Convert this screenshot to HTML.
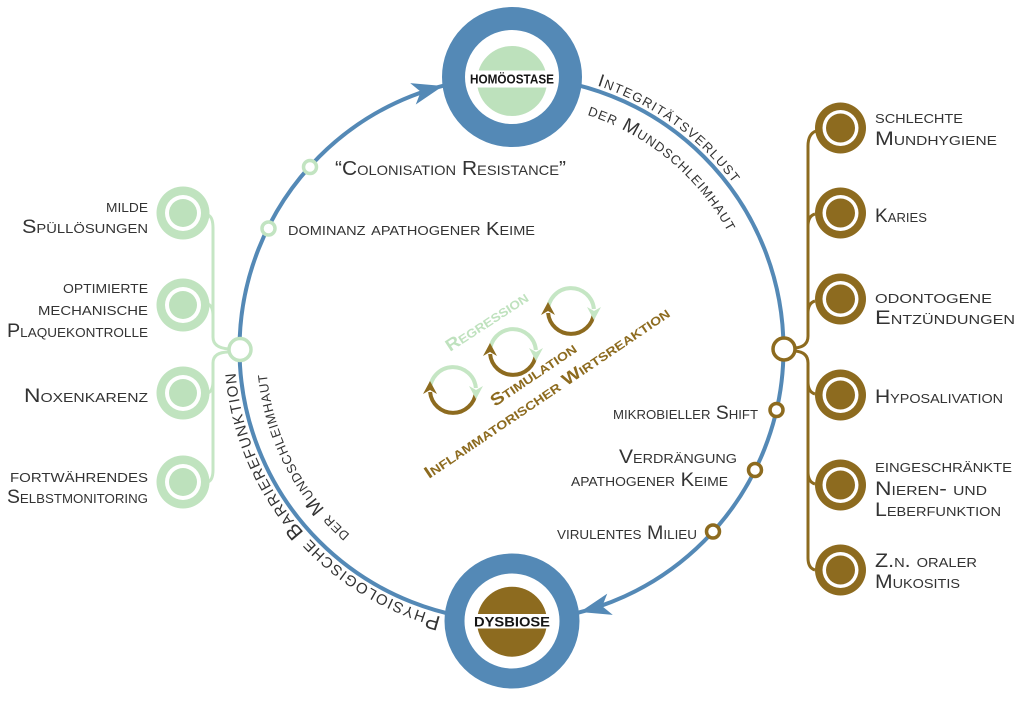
<!DOCTYPE html>
<html><head><meta charset="utf-8">
<style>
html,body{margin:0;padding:0;background:#fff;}
svg{display:block;}
text{font-family:"Liberation Sans",sans-serif;font-variant:small-caps;fill:#333;}
.b{font-weight:bold;}
.k{fill:#151515;}
.g{fill:#bfe2be;}
.br{fill:#8d6b1f;}
</style></head>
<body>
<svg width="1024" height="712" viewBox="0 0 1024 712" xmlns="http://www.w3.org/2000/svg">
<defs>
<path id="tro" d="M511.5 72 A277 277 0 0 1 788.5 349"/>
<path id="tri" d="M511.5 103 A246 246 0 0 1 757.5 349"/>
<path id="blo" d="M511.5 626 A277 277 0 0 1 234.5 349"/>
<path id="bli" d="M511.5 595 A246 246 0 0 1 265.5 349"/>
</defs>

<!-- main circle -->
<circle cx="511.5" cy="349" r="272" fill="none" stroke="#5489b6" stroke-width="4"/>
<!-- arrowheads -->
<path d="M0 0 L-31 -11 L-23 0 L-31 11 Z" fill="#5489b6" transform="translate(443 86) rotate(-14.6)"/>
<path d="M0 0 L-31 -11 L-23 0 L-31 11 Z" fill="#5489b6" transform="translate(580 612) rotate(165.5)"/>

<!-- left tree connectors -->
<g fill="none" stroke="#c5e6c4" stroke-width="3">
<path d="M208 215 Q213 217 213 228 L213 337 Q213 348 229 349"/>
<path d="M229 352 Q213 352 213 363 L213 470 Q213 480 208 482"/>
<path d="M208 304 Q213 306 213 316"/>
<path d="M213 381 Q213 391 208 393"/>
</g>
<!-- right tree connectors -->
<g fill="none" stroke="#8d6b1f" stroke-width="3">
<path d="M816 131 Q808 134 808 146 L808 336 Q808 347 795 348"/>
<path d="M795 351 Q808 352 808 363 L808 558 Q808 568 815 570"/>
<path d="M815 214 Q808 216 808 226"/>
<path d="M815 301 Q808 303 808 313"/>
<path d="M808 382 Q808 392 815 394"/>
<path d="M808 472 Q808 482 815 484"/>
</g>

<!-- left green circles -->
<g>
<circle cx="183" cy="213" r="26.5" fill="#c0e3bf"/><circle cx="183" cy="213" r="18" fill="#fff"/><circle cx="183" cy="213" r="14" fill="#bde1bc"/>
<circle cx="183" cy="305" r="26.5" fill="#c0e3bf"/><circle cx="183" cy="305" r="18" fill="#fff"/><circle cx="183" cy="305" r="14" fill="#bde1bc"/>
<circle cx="183" cy="393" r="26.5" fill="#c0e3bf"/><circle cx="183" cy="393" r="18" fill="#fff"/><circle cx="183" cy="393" r="14" fill="#bde1bc"/>
<circle cx="183" cy="482" r="26.5" fill="#c0e3bf"/><circle cx="183" cy="482" r="18" fill="#fff"/><circle cx="183" cy="482" r="14" fill="#bde1bc"/>
</g>
<!-- right brown circles -->
<g>
<circle cx="840.5" cy="128" r="25.5" fill="#8d6b1f"/><circle cx="840.5" cy="128" r="18" fill="#fff"/><circle cx="840.5" cy="128" r="14.5" fill="#8d6b1f"/>
<circle cx="840.5" cy="213" r="25.5" fill="#8d6b1f"/><circle cx="840.5" cy="213" r="18" fill="#fff"/><circle cx="840.5" cy="213" r="14.5" fill="#8d6b1f"/>
<circle cx="840.5" cy="299" r="25.5" fill="#8d6b1f"/><circle cx="840.5" cy="299" r="18" fill="#fff"/><circle cx="840.5" cy="299" r="14.5" fill="#8d6b1f"/>
<circle cx="840.5" cy="395" r="25.5" fill="#8d6b1f"/><circle cx="840.5" cy="395" r="18" fill="#fff"/><circle cx="840.5" cy="395" r="14.5" fill="#8d6b1f"/>
<circle cx="840.5" cy="485" r="25.5" fill="#8d6b1f"/><circle cx="840.5" cy="485" r="18" fill="#fff"/><circle cx="840.5" cy="485" r="14.5" fill="#8d6b1f"/>
<circle cx="840.5" cy="570" r="25.5" fill="#8d6b1f"/><circle cx="840.5" cy="570" r="18" fill="#fff"/><circle cx="840.5" cy="570" r="14.5" fill="#8d6b1f"/>
</g>

<!-- nodes on main circle -->
<circle cx="240" cy="349.5" r="11" fill="#fff" stroke="#c2e4c1" stroke-width="3.5"/>
<circle cx="784" cy="349" r="11" fill="#fff" stroke="#8d6b1f" stroke-width="3.5"/>
<g fill="#fff" stroke="#c2e4c1" stroke-width="3.5">
<circle cx="310" cy="167" r="6.5"/><circle cx="268.5" cy="228.5" r="6.5"/>
</g>
<g fill="#fff" stroke="#8d6b1f" stroke-width="3.5">
<circle cx="776.5" cy="410" r="6.5"/><circle cx="755" cy="470" r="6.5"/><circle cx="713" cy="531.5" r="6.5"/>
</g>

<!-- Homöostase -->
<circle cx="512" cy="77" r="58.5" fill="#fff" stroke="#5489b6" stroke-width="23"/>
<circle cx="512" cy="81" r="35" fill="#bde1bc"/>
<rect x="470" y="70.5" width="85" height="17" fill="#fff"/>
<text class="b k" x="470" y="83.5" font-size="13" textLength="84" lengthAdjust="spacingAndGlyphs">HOMÖOSTASE</text>

<!-- Dysbiose -->
<circle cx="512" cy="621" r="57.5" fill="#fff" stroke="#5489b6" stroke-width="20"/>
<circle cx="512" cy="621.7" r="35" fill="#8d6b1f"/>
<rect x="470" y="614" width="85" height="14.5" fill="#fff"/>
<text class="b k" x="474" y="626.7" font-size="14" textLength="76" lengthAdjust="spacingAndGlyphs">DYSBIOSE</text>

<!-- curved texts -->
<text font-size="18"><textPath href="#tro" startOffset="87" textLength="170">Integritätsverlust</textPath></text>
<text font-size="19"><textPath href="#tri" startOffset="77" textLength="187">der Mundschleimhaut</textPath></text>
<text font-size="21"><textPath href="#blo" startOffset="71" textLength="340">Physiologische Barrierefunktion</textPath></text>
<text font-size="19"><textPath href="#bli" startOffset="176" textLength="185">der Mundschleimhaut</textPath></text>

<!-- left labels -->
<g font-size="19" text-anchor="end">
<text x="148" y="212" textLength="42" lengthAdjust="spacingAndGlyphs">milde</text>
<text x="148" y="233" textLength="126" lengthAdjust="spacingAndGlyphs">Spüllösungen</text>
<text x="148" y="293" textLength="85" lengthAdjust="spacingAndGlyphs">optimierte</text>
<text x="148" y="315" textLength="110" lengthAdjust="spacingAndGlyphs">mechanische</text>
<text x="148" y="337" textLength="141" lengthAdjust="spacingAndGlyphs">Plaquekontrolle</text>
<text x="148" y="402" textLength="124" lengthAdjust="spacingAndGlyphs">Noxenkarenz</text>
<text x="148" y="482" textLength="138" lengthAdjust="spacingAndGlyphs">fortwährendes</text>
<text x="148" y="503" textLength="141" lengthAdjust="spacingAndGlyphs">Selbstmonitoring</text>
</g>

<!-- right labels -->
<g font-size="19">
<text x="875" y="123" textLength="88" lengthAdjust="spacingAndGlyphs">schlechte</text>
<text x="875" y="145" textLength="122" lengthAdjust="spacingAndGlyphs">Mundhygiene</text>
<text x="875" y="222" textLength="52" lengthAdjust="spacingAndGlyphs">Karies</text>
<text x="875" y="303" textLength="117" lengthAdjust="spacingAndGlyphs">odontogene</text>
<text x="875" y="324" textLength="140" lengthAdjust="spacingAndGlyphs">Entzündungen</text>
<text x="875" y="403" textLength="128" lengthAdjust="spacingAndGlyphs">Hyposalivation</text>
<text x="875" y="472" textLength="137" lengthAdjust="spacingAndGlyphs">eingeschränkte</text>
<text x="875" y="495" textLength="112" lengthAdjust="spacingAndGlyphs">Nieren- und</text>
<text x="875" y="516" textLength="126" lengthAdjust="spacingAndGlyphs">Leberfunktion</text>
<text x="875" y="567" textLength="102" lengthAdjust="spacingAndGlyphs">Z.n. oraler</text>
<text x="875" y="588" textLength="85" lengthAdjust="spacingAndGlyphs">Mukositis</text>
</g>

<!-- middle labels -->
<text x="335" y="175" font-size="20" textLength="231" lengthAdjust="spacingAndGlyphs">“Colonisation Resistance”</text>
<text x="288" y="235" font-size="18" textLength="247" lengthAdjust="spacingAndGlyphs">dominanz apathogener Keime</text>
<g font-size="19" text-anchor="end">
<text x="758" y="419" textLength="145" lengthAdjust="spacingAndGlyphs">mikrobieller Shift</text>
<text x="737" y="463" textLength="118" lengthAdjust="spacingAndGlyphs">Verdrängung</text>
<text x="728" y="486" textLength="157" lengthAdjust="spacingAndGlyphs">apathogener Keime</text>
<text x="697" y="539" textLength="140" lengthAdjust="spacingAndGlyphs">virulentes Milieu</text>
</g>

<!-- cycle arrows -->
<g fill="none" stroke-width="4">
<path d="M430 390 A23 23 0 0 1 475.9 388" stroke="#c5e6c4"/>
<path d="M475.9 392 A23 23 0 0 1 430.1 392" stroke="#8d6b1f"/>
<path d="M490 352 A23 23 0 0 1 535.9 350" stroke="#c5e6c4"/>
<path d="M535.9 354 A23 23 0 0 1 490.1 354" stroke="#8d6b1f"/>
<path d="M548 311 A23 23 0 0 1 593.9 309" stroke="#c5e6c4"/>
<path d="M593.9 313 A23 23 0 0 1 548.1 313" stroke="#8d6b1f"/>
</g>
<g fill="#c5e6c4">
<path d="M476 399 L469 386 L476 390 L483 386 Z"/>
<path d="M536 361 L529 348 L536 352 L543 348 Z"/>
<path d="M594 320 L587 307 L594 311 L601 307 Z"/>
</g>
<g fill="#8d6b1f">
<path d="M430 381 L423 394 L430 390 L437 394 Z"/>
<path d="M490 343 L483 356 L490 352 L497 356 Z"/>
<path d="M548 302 L541 315 L548 311 L555 315 Z"/>
</g>
<text class="b g" font-size="17" transform="translate(450 352) rotate(-33)" textLength="95" lengthAdjust="spacingAndGlyphs">Regression</text>
<text class="b br" font-size="17" transform="translate(495 407) rotate(-34)" textLength="100" lengthAdjust="spacingAndGlyphs">Stimulation</text>
<text class="b br" font-size="17" transform="translate(429 479) rotate(-34)" textLength="292" lengthAdjust="spacingAndGlyphs">Inflammatorischer Wirtsreaktion</text>
</svg>
</body></html>
